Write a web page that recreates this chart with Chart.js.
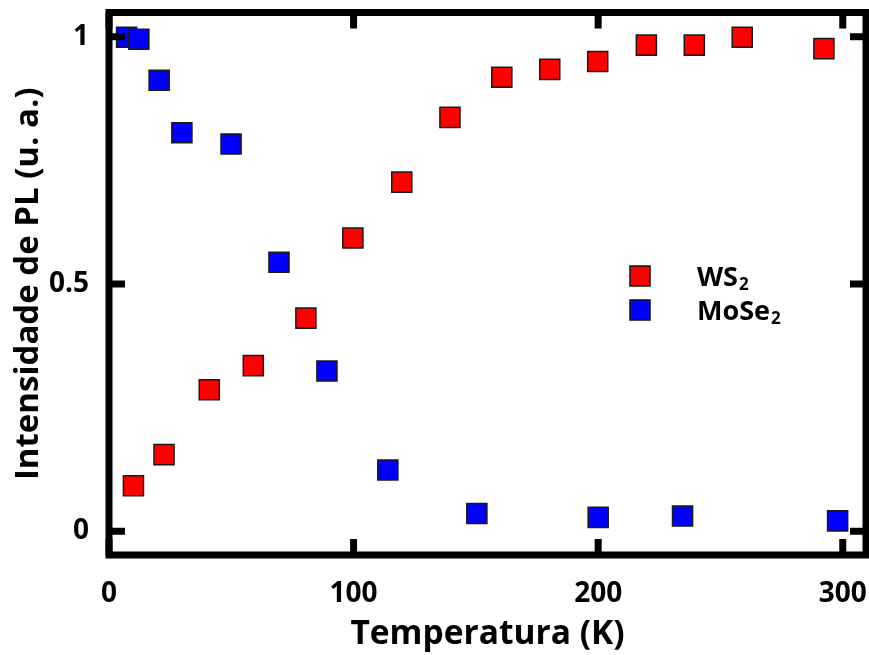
<!DOCTYPE html>
<html>
<head>
<meta charset="utf-8">
<script src="https://cdn.jsdelivr.net/npm/chart.js@4.4.1/dist/chart.umd.min.js"></script>
<style>
  html, body { margin: 0; padding: 0; background: #fff; }
  #wrap { width: 869px; height: 655px; }
</style>
</head>
<body>
<div id="wrap"><canvas id="plChart" width="869" height="655"></canvas></div>
<script>
// Temperatura (K) e intensidade de PL normalizada
const ws2Temp = [10, 22.5, 41, 59, 80.5, 99.7, 119.7, 139.4, 160.6, 180.2, 199.8, 219.7, 239.3, 258.9, 292.3];
const ws2PL = [0.092, 0.155, 0.286, 0.335, 0.431, 0.593, 0.706, 0.837, 0.918, 0.934, 0.950, 0.983, 0.983, 0.999, 0.976];

const mose2Temp = [7.2, 12.2, 20.5, 29.8, 49.9, 69.5, 89.1, 114.0, 150.4, 200.0, 234.5, 297.9];
const mose2PL = [0.999, 0.995, 0.912, 0.806, 0.783, 0.544, 0.324, 0.124, 0.036, 0.028, 0.031, 0.021];

const xTicks = [0, 100, 200, 300];
const yTicks = [0, 0.5, 1];
const seriesNames = ["WS", "MoSe"];

const FONT = "'Open Sans', 'DejaVu Sans', sans-serif";

function toPoints(xs, ys) {
  return xs.map((x, i) => ({ x: x, y: ys[i] }));
}

// moldura grossa, ticks para dentro nos quatro lados e legenda com subscrito
const framePlugin = {
  id: "frame",
  afterDatasetsDraw(chart) {
    const { ctx, chartArea: a, scales } = chart;
    const lw = 7;
    const tl = 16;
    ctx.save();
    ctx.strokeStyle = "#000";
    ctx.fillStyle = "#000";
    ctx.lineWidth = lw;
    ctx.strokeRect(a.left, a.top, a.right - a.left, a.bottom - a.top);
    xTicks.forEach(v => {
      const px = scales.x.getPixelForValue(v);
      ctx.fillRect(px - lw / 2, a.bottom - tl, lw, tl);
      ctx.fillRect(px - lw / 2, a.top, lw, tl);
    });
    yTicks.forEach(v => {
      const py = scales.y.getPixelForValue(v);
      ctx.fillRect(a.left, py - lw / 2, tl, lw);
      ctx.fillRect(a.right - tl, py - lw / 2, tl, lw);
    });

    // legenda
    const lx = 640, ly = [276, 310];
    chart.data.datasets.forEach((ds, i) => {
      ctx.fillStyle = ds.backgroundColor;
      ctx.strokeStyle = "#111";
      ctx.lineWidth = 1.5;
      ctx.fillRect(lx - 10, ly[i] - 10, 20, 20);
      ctx.strokeRect(lx - 10, ly[i] - 10, 20, 20);
      ctx.fillStyle = "#000";
      ctx.textBaseline = "alphabetic";
      ctx.textAlign = "left";
      ctx.font = "bold 27px " + FONT;
      ctx.fillText(seriesNames[i], 697, ly[i] + 10);
      const w = ctx.measureText(seriesNames[i]).width;
      ctx.font = "bold 17px " + FONT;
      ctx.fillText("2", 697 + w + 1, ly[i] + 14);
    });
    ctx.restore();
  }
};

new Chart(document.getElementById("plChart"), {
  type: "scatter",
  data: {
    datasets: [
      {
        label: "WS2",
        data: toPoints(ws2Temp, ws2PL),
        backgroundColor: "#ff0000",
        borderColor: "#1a1a1a",
        borderWidth: 1.5,
        pointStyle: "rect",
        pointRadius: 14.2,
        pointHoverRadius: 14.2
      },
      {
        label: "MoSe2",
        data: toPoints(mose2Temp, mose2PL),
        backgroundColor: "#0000ff",
        borderColor: "#1a1a1a",
        borderWidth: 1.5,
        pointStyle: "rect",
        pointRadius: 14.2,
        pointHoverRadius: 14.2
      }
    ]
  },
  options: {
    responsive: false,
    animation: false,
    layout: { autoPadding: false, padding: { top: 12.5, right: 3, left: 0, bottom: 0 } },
    plugins: {
      legend: { display: false },
      tooltip: { enabled: false }
    },
    scales: {
      x: {
        type: "linear",
        min: 0,
        max: 309.5,
        grid: { display: false },
        border: { display: false },
        afterBuildTicks: s => { s.ticks = xTicks.map(v => ({ value: v })); },
        afterFit: s => { s.height = 100; s.paddingLeft = 0; s.paddingRight = 0; },
        ticks: {
          padding: 14,
          color: "#000",
          font: { family: FONT, size: 28, weight: "bold" },
          callback: v => String(v)
        },
        title: {
          display: true,
          text: "Temperatura (K)",
          color: "#000",
          padding: { top: 2, bottom: 0 },
          font: { family: FONT, size: 33.5, weight: "bold" }
        }
      },
      y: {
        type: "linear",
        min: -0.048,
        max: 1.049,
        grid: { display: false },
        border: { display: false },
        afterBuildTicks: s => { s.ticks = yTicks.map(v => ({ value: v })); },
        afterFit: s => { s.width = 109; s.paddingTop = 0; s.paddingBottom = 0; },
        ticks: {
          padding: 12,
          color: "#000",
          font: { family: FONT, size: 28, weight: "bold" },
          callback: v => String(v)
        },
        title: {
          display: true,
          text: "Intensidade de PL (u. a.)",
          color: "#000",
          padding: { top: 9, bottom: 0 },
          font: { family: FONT, size: 33, weight: "bold" }
        }
      }
    }
  },
  plugins: [framePlugin]
});
</script>
</body>
</html>
